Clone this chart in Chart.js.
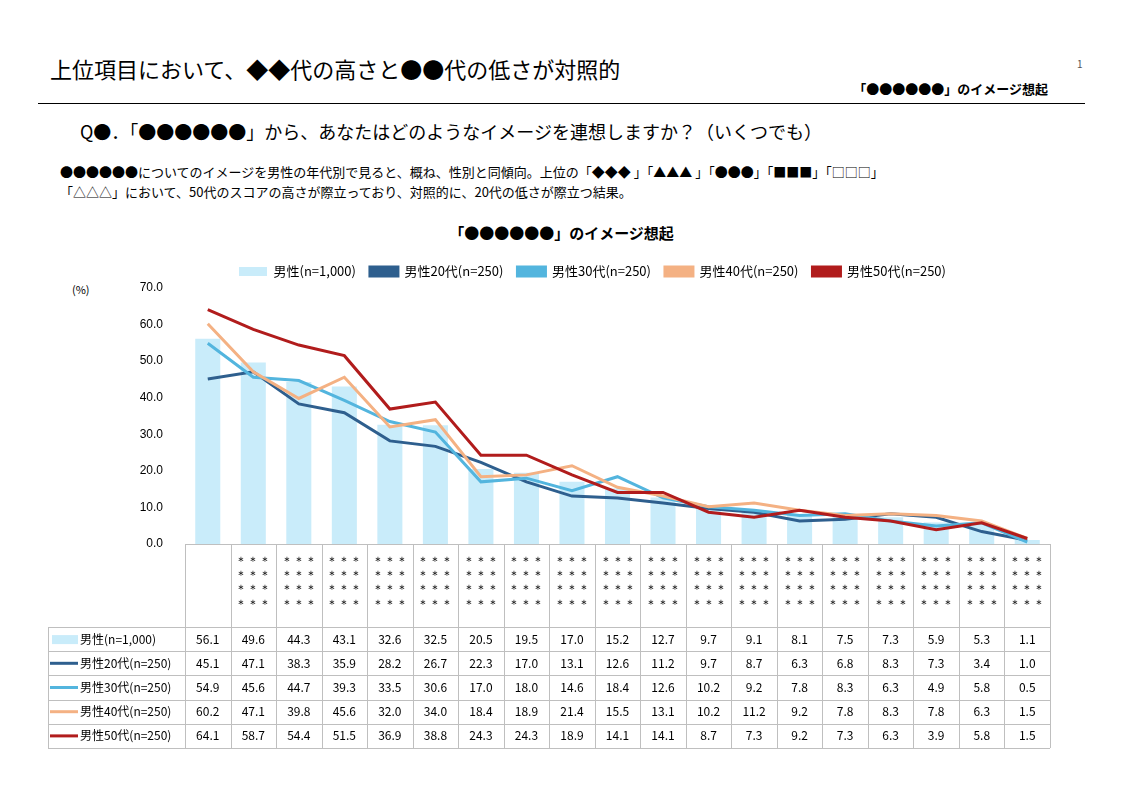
<!DOCTYPE html>
<html><head><meta charset="utf-8">
<script src="https://cdn.jsdelivr.net/npm/chart.js@4"></script>
<style>
body{margin:0;width:1123px;height:794px;background:#fff;font-family:"Noto Sans CJK JP",sans-serif;position:relative;overflow:hidden}
.t{position:absolute;white-space:nowrap;color:#000}
</style></head><body>
<div class="t" style="left:50px;top:52px;font-size:22px">上位項目において、◆◆代の高さと●●代の低さが対照的</div>
<div class="t" style="left:1077px;top:56px;font-size:10px;color:#555">1</div>
<div class="t" style="right:75px;top:79px;font-size:13px;font-weight:bold">「●●●●●●」のイメージ想起</div>
<div style="position:absolute;left:38px;top:103px;width:1047px;height:1px;background:#000"></div>
<div class="t" style="left:80px;top:118px;font-size:18px">Q●．「●●●●●●」から、あなたはどのようなイメージを連想しますか？（いくつでも）</div>
<div class="t" style="left:60px;top:162px;font-size:13px;line-height:20px">●●●●●●についてのイメージを男性の年代別で見ると、概ね、性別と同傾向。上位の「◆◆◆ 」「▲▲▲ 」「●●●」「■■■」「□□□」<br>「△△△」において、50代のスコアの高さが際立っており、対照的に、20代の低さが際立つ結果。</div>
<div class="t" style="left:0;width:1123px;text-align:center;top:222px;font-size:15px;font-weight:bold">「●●●●●●」のイメージ想起</div>
<div class="t" style="left:72px;top:281px;font-size:11px">(%)</div>
<canvas id="c" style="position:absolute;left:0;top:251px"></canvas>
<script>
const categories = ['', '＊＊＊', '＊＊＊', '＊＊＊', '＊＊＊', '＊＊＊', '＊＊＊', '＊＊＊', '＊＊＊', '＊＊＊', '＊＊＊', '＊＊＊', '＊＊＊', '＊＊＊', '＊＊＊', '＊＊＊', '＊＊＊', '＊＊＊', '＊＊＊'];
const seriesNames = ['男性(n=1,000)', '男性20代(n=250)', '男性30代(n=250)', '男性40代(n=250)', '男性50代(n=250)'];
const male = [56.1, 49.6, 44.3, 43.1, 32.6, 32.5, 20.5, 19.5, 17.0, 15.2, 12.7, 9.7, 9.1, 8.1, 7.5, 7.3, 5.9, 5.3, 1.1];
const male20 = [45.1, 47.1, 38.3, 35.9, 28.2, 26.7, 22.3, 17.0, 13.1, 12.6, 11.2, 9.7, 8.7, 6.3, 6.8, 8.3, 7.3, 3.4, 1.0];
const male30 = [54.9, 45.6, 44.7, 39.3, 33.5, 30.6, 17.0, 18.0, 14.6, 18.4, 12.6, 10.2, 9.2, 7.8, 8.3, 6.3, 4.9, 5.8, 0.5];
const male40 = [60.2, 47.1, 39.8, 45.6, 32.0, 34.0, 18.4, 18.9, 21.4, 15.5, 13.1, 10.2, 11.2, 9.2, 7.8, 8.3, 7.8, 6.3, 1.5];
const male50 = [64.1, 58.7, 54.4, 51.5, 36.9, 38.8, 24.3, 24.3, 18.9, 14.1, 14.1, 8.7, 7.3, 9.2, 7.3, 6.3, 3.9, 5.8, 1.5];
const yTicks = [0, 10, 20, 30, 40, 50, 60, 70];

const colors = ['#c9ecfa', '#2e5f8e', '#53b5de', '#f4b183', '#b11c1c'];
const allData = [male, male20, male30, male40, male50];
const LABEL_H = 83, ROW_H = 24.2;

const c = document.getElementById('c');
c.width = 1123; c.height = 509;

const tablePlugin = {
  id: 'table',
  afterDraw(chart) {
    const g = chart.ctx, a = chart.chartArea, x = chart.scales.x;
    const w = x.getPixelForValue(1) - x.getPixelForValue(0);
    const left = 48, top = a.bottom, labBot = a.bottom + LABEL_H, bot = labBot + ROW_H * 5;
    g.save();
    g.strokeStyle = '#bfbfbf'; g.lineWidth = 1;
    for (let i = 0; i <= categories.length; i++) {
      const px = Math.round(x.getPixelForValue(0) - w / 2 + i * w) + 0.5;
      g.beginPath(); g.moveTo(px, top); g.lineTo(px, bot); g.stroke();
    }
    g.beginPath(); g.moveTo(left + 0.5, labBot); g.lineTo(left + 0.5, bot); g.stroke();
    for (let r = 0; r <= 5; r++) {
      const py = Math.round(labBot + r * ROW_H) + 0.5;
      g.beginPath(); g.moveTo(left, py); g.lineTo(a.right, py); g.stroke();
    }
    g.font = '12px "Noto Sans CJK JP"'; g.textBaseline = 'middle';
    for (let r = 0; r < 5; r++) {
      const cy = labBot + r * ROW_H + ROW_H / 2;
      if (r === 0) { g.fillStyle = colors[0]; g.fillRect(52, cy - 4, 26, 9); }
      else { g.strokeStyle = colors[r]; g.lineWidth = 3; g.beginPath(); g.moveTo(50, cy); g.lineTo(78, cy); g.stroke(); }
      g.fillStyle = '#000'; g.textAlign = 'left';
      g.fillText(seriesNames[r], 80, cy);
      g.textAlign = 'center';
      allData[r].forEach((v, i) => g.fillText(v.toFixed(1), x.getPixelForValue(i), cy));
    }
    g.restore();
  }
};

new Chart(c, {
  data: {
    labels: categories.map(s => s ? [s, s, s, s] : ['']),
    datasets: [
      { type: 'bar', label: seriesNames[0], data: male, backgroundColor: colors[0], barPercentage: 0.55, categoryPercentage: 1, order: 5 },
      ...[male20, male30, male40, male50].map((d, i) => ({
        type: 'line', label: seriesNames[i + 1], data: d, borderColor: colors[i + 1], backgroundColor: colors[i + 1],
        borderWidth: 3, pointRadius: 0, tension: 0, order: 4 - i
      }))
    ]
  },
  options: {
    responsive: false, animation: false,
    layout: { padding: { left: 135, right: 73, top: 0, bottom: 509 - 293 - LABEL_H } },
    plugins: {
      legend: {
        labels: {
          boxWidth: 28, boxHeight: 9, font: { size: 13, family: 'Noto Sans CJK JP' }, color: '#000', padding: 14,
          sort: (a, b) => a.datasetIndex - b.datasetIndex
        }
      },
      tooltip: { enabled: false }
    },
    scales: {
      x: {
        grid: { display: false },
        border: { color: '#bfbfbf' },
        ticks: { font: { size: 12 }, color: '#000', maxRotation: 0, autoSkip: false, padding: 2 },
        afterFit: s => { s.height = LABEL_H; }
      },
      y: {
        min: 0, max: 70,
        afterBuildTicks: s => { s.ticks = yTicks.map(v => ({ value: v })); },
        grid: { display: false },
        border: { display: false },
        ticks: { font: { size: 12 }, color: '#000', callback: v => v.toFixed(1), padding: 14 },
        afterFit: s => { s.width = 50; }
      }
    }
  },
  plugins: [tablePlugin]
});
</script>
</body></html>
